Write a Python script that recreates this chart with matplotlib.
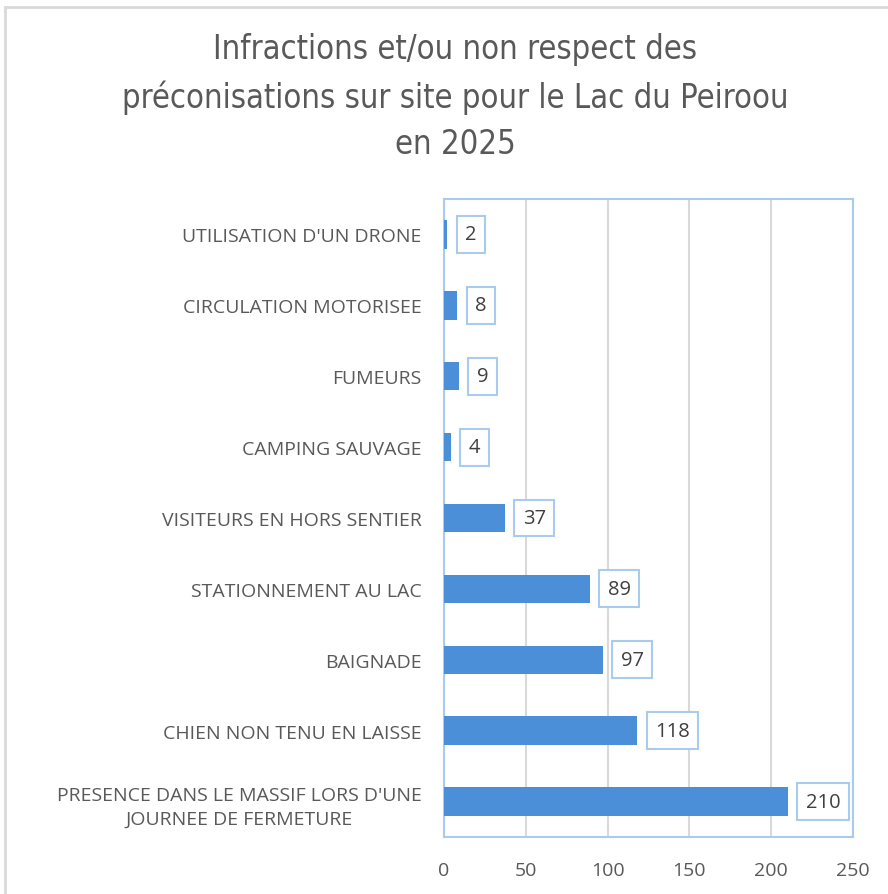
import matplotlib
matplotlib.use("Agg")
import matplotlib.pyplot as plt
from matplotlib.patches import Rectangle

categories = [
    "PRESENCE DANS LE MASSIF LORS D'UNE\nJOURNEE DE FERMETURE",
    "CHIEN NON TENU EN LAISSE",
    "BAIGNADE",
    "STATIONNEMENT AU LAC",
    "VISITEURS EN HORS SENTIER",
    "CAMPING SAUVAGE",
    "FUMEURS",
    "CIRCULATION MOTORISEE",
    "UTILISATION D'UN DRONE",
]
values = [210, 118, 97, 89, 37, 4, 9, 8, 2]
xticks = [0, 50, 100, 150, 200, 250]
title = "Infractions et/ou non respect des\npréconisations sur site pour le Lac du Peiroou\nen 2025"

text_col = "#595959"
bar_col = "#4a8fd8"
frame_col = "#a8cbee"

fig = plt.figure(figsize=(8.88, 8.95), dpi=100)
fig.patch.set_facecolor("white")
fig.add_artist(Rectangle((5/888, -0.05), 1.2, 1 - 8/895 + 0.05, transform=fig.transFigure,
                         fill=False, edgecolor="#d9d9d9", linewidth=2))

ax = fig.add_axes([444/888, 1 - 838/895, (853-444)/888, (838-200)/895])
y = list(range(len(categories)))
ax.barh(y, values, height=0.4, color=bar_col, zorder=3)
ax.set_xlim(0, 250)
ax.set_ylim(-0.5, len(categories) - 0.5)
ax.set_xticks(xticks)
ax.set_xticklabels([str(t) for t in xticks], family="Open Sans", stretch="normal")
ax.set_yticks(y)
ax.set_yticklabels(categories, multialignment="center", family="Open Sans",
                   stretch="normal", linespacing=1.45)
ax.tick_params(axis="both", length=0, colors=text_col)
ax.tick_params(axis="y", labelsize=14, pad=16)
ax.tick_params(axis="x", labelsize=14, pad=17)
ax.grid(axis="x", color="#d9d9d9", linewidth=1.5, zorder=0)
for s in ax.spines.values():
    s.set_edgecolor(frame_col)
    s.set_linewidth(1.5)

for yi, v in zip(y, values):
    ax.annotate(str(v), xy=(v, yi), xytext=(13, 0), textcoords="offset points",
                ha="left", va="center", fontsize=14.5, color="#404040",
                family="Open Sans", stretch="normal",
                bbox=dict(boxstyle="square,pad=0.42", facecolor="white",
                          edgecolor=frame_col, linewidth=1.5),
                zorder=5, annotation_clip=False)

fig.text(455/888, 1 - 97/895, title, ha="center", va="center", fontsize=23.5,
         color=text_col, family="DejaVu Sans", stretch="condensed", linespacing=1.5)

fig.savefig("out.png", dpi=100)
